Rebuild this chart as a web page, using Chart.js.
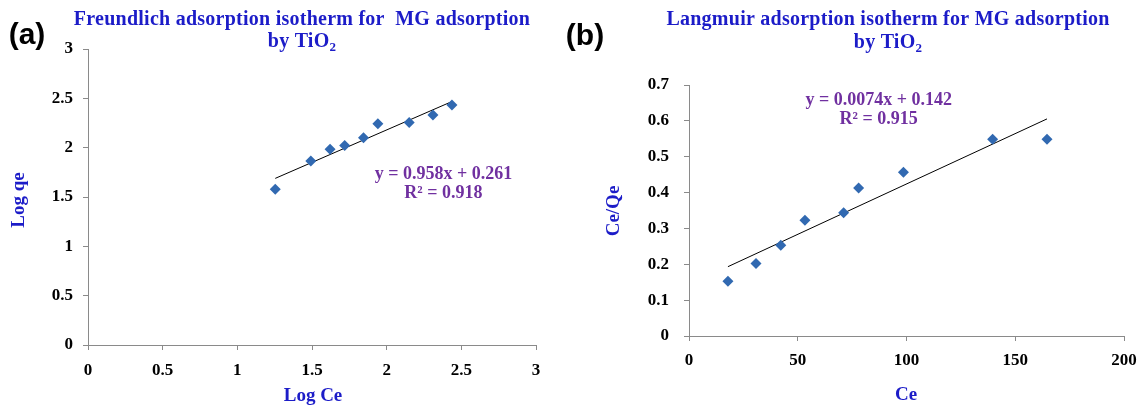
<!DOCTYPE html>
<html>
<head>
<meta charset="utf-8">
<script src="https://cdn.jsdelivr.net/npm/chart.js@4.4.1/dist/chart.umd.min.js"></script>
<style>
  html, body { margin: 0; padding: 0; background: #ffffff; }
  #wrap { position: relative; width: 1146px; height: 408px; overflow: hidden; }
  #wrap canvas { position: absolute; top: 0; }
</style>
</head>
<body>
<div id="wrap">
  <canvas id="freundlich" width="573" height="408" style="left:0px"></canvas>
  <canvas id="langmuir" width="593" height="408" style="left:553px"></canvas>
</div>
<script>
// Freundlich isotherm: log Ce against log qe
const logCe = [1.254, 1.492, 1.621, 1.719, 1.845, 1.941, 2.151, 2.310, 2.437];
const logQe = [1.578, 1.864, 1.983, 2.023, 2.100, 2.242, 2.256, 2.330, 2.432];
const freundlichXTicks = [0, 0.5, 1, 1.5, 2, 2.5, 3];
const freundlichXLabels = ['0', '0.5', '1', '1.5', '2', '2.5', '3'];
const freundlichYTicks = [0, 0.5, 1, 1.5, 2, 2.5, 3];
const freundlichYLabels = ['0', '0.5', '1', '1.5', '2', '2.5', '3'];

// Langmuir isotherm: Ce against Ce/Qe
const ce = [17.9, 30.8, 42.2, 53.3, 71.1, 78.0, 98.6, 139.6, 164.6];
const ceOverQe = [0.153, 0.202, 0.253, 0.323, 0.344, 0.413, 0.457, 0.549, 0.549];
const langmuirXTicks = [0, 50, 100, 150, 200];
const langmuirXLabels = ['0', '50', '100', '150', '200'];
const langmuirYTicks = [0, 0.1, 0.2, 0.3, 0.4, 0.5, 0.6, 0.7];
const langmuirYLabels = ['0', '0.1', '0.2', '0.3', '0.4', '0.5', '0.6', '0.7'];

const SERIF = '"Liberation Serif", "Times New Roman", serif';
const SANS = '"Liberation Sans", Arial, sans-serif';
const BLUE = '#1c1cc8';
const PURPLE = '#7030a0';
const MARKER = '#3169b1';
const AXIS = '#8a8a8a';

// least-squares linear trendline across the range of the points
function trendline(xs, ys) {
  const n = xs.length;
  const mx = xs.reduce((a, b) => a + b, 0) / n;
  const my = ys.reduce((a, b) => a + b, 0) / n;
  let sxy = 0, sxx = 0;
  for (let i = 0; i < n; i++) {
    sxy += (xs[i] - mx) * (ys[i] - my);
    sxx += (xs[i] - mx) * (xs[i] - mx);
  }
  const m = sxy / sxx, b = my - m * mx;
  const lo = Math.min(...xs), hi = Math.max(...xs);
  return [{ x: lo, y: m * lo + b }, { x: hi, y: m * hi + b }];
}

// text pieces: plain runs plus subscript runs, centred on (cx, cy)
function drawRuns(ctx, runs, size, cx, cy, spacing) {
  const fontFor = r => 'bold ' + (r.sub ? Math.round(size * 0.65) : size) + 'px ' + (r.family || SERIF);
  ctx.letterSpacing = (spacing || 0) + 'px';
  const widths = runs.map(r => { ctx.font = fontFor(r); return ctx.measureText(r.text).width; });
  const total = widths.reduce((a, b) => a + b, 0);
  let x = cx - total / 2;
  ctx.textAlign = 'left';
  ctx.textBaseline = 'middle';
  runs.forEach((r, i) => {
    ctx.font = fontFor(r);
    ctx.fillText(r.text, x, cy + (r.sub ? size * 0.28 : 0));
    x += widths[i];
  });
}

// titles, axis names and fit equations for one panel
function textPlugin(items) {
  return {
    id: 'panelText',
    afterDraw(chart) {
      const ctx = chart.ctx;
      for (const t of items) {
        ctx.save();
        ctx.fillStyle = t.color;
        let px = t.px, py = t.py;
        if (t.at) {
          px = chart.scales.x.getPixelForValue(t.at[0]);
          py = chart.scales.y.getPixelForValue(t.at[1]);
        }
        ctx.translate(px, py);
        if (t.rotate) ctx.rotate(t.rotate);
        drawRuns(ctx, t.runs, t.size, 0, 0, t.spacing);
        ctx.restore();
      }
    }
  };
}

function axis(min, max, values, labels, fitKey, fitSize, pad) {
  return {
    type: 'linear',
    min: min,
    max: max,
    afterBuildTicks: s => { s.ticks = values.map(v => ({ value: v })); },
    afterFit: s => { s[fitKey] = fitSize; },
    ticks: {
      callback: (v, i) => labels[i],
      color: '#000000',
      padding: pad,
      maxRotation: 0,
      autoSkip: false,
      font: { family: SERIF, size: 17, weight: 'bold' }
    },
    grid: { drawOnChartArea: false, drawTicks: true, tickLength: 5, color: AXIS, lineWidth: 1 },
    border: { display: true, color: AXIS, width: 1 }
  };
}

function panel(id, xs, ys, cfg) {
  return new Chart(document.getElementById(id), {
    type: 'scatter',
    data: {
      datasets: [
        {
          data: xs.map((x, i) => ({ x: x, y: ys[i] })),
          pointStyle: 'rectRot',
          pointRadius: 5.5,
          backgroundColor: MARKER,
          borderColor: MARKER,
          borderWidth: 0,
          order: 1
        },
        {
          type: 'line',
          data: trendline(xs, ys),
          borderColor: '#000000',
          borderWidth: 1,
          pointRadius: 0,
          fill: false,
          order: 2
        }
      ]
    },
    options: {
      responsive: false,
      animation: false,
      devicePixelRatio: 1,
      events: [],
      layout: { padding: cfg.padding },
      scales: { x: cfg.x, y: cfg.y },
      plugins: {
        legend: { display: false },
        tooltip: { enabled: false }
      }
    },
    plugins: [textPlugin(cfg.text)]
  });
}

panel('freundlich', logCe, logQe, {
  padding: { left: 0, right: 37, top: 49, bottom: 0 },
  x: axis(0, 3, freundlichXTicks, freundlichXLabels, 'height', 63, 10),
  y: axis(0, 3, freundlichYTicks, freundlichYLabels, 'width', 88, 10),
  text: [
    { px: 27, py: 36, size: 30, color: '#000000', runs: [{ text: '(a)', family: SANS }] },
    { px: 302, py: 20, size: 20, spacing: 0.25, color: BLUE, runs: [{ text: 'Freundlich adsorption isotherm for  MG adsorption' }] },
    { px: 302, py: 42, size: 20, spacing: 0.25, color: BLUE, runs: [{ text: 'by TiO' }, { text: '2', sub: true }] },
    { px: 19, py: 200, size: 19, color: BLUE, rotate: -Math.PI / 2, runs: [{ text: 'Log qe' }] },
    { px: 313, py: 396, size: 19, color: BLUE, runs: [{ text: 'Log Ce' }] },
    { at: [2.38, 1.733], size: 18, color: PURPLE, runs: [{ text: 'y = 0.958x + 0.261' }] },
    { at: [2.38, 1.54], size: 18, color: PURPLE, runs: [{ text: 'R² = 0.918' }] }
  ]
});

panel('langmuir', ce, ceOverQe, {
  padding: { left: 0, right: 22, top: 85, bottom: 0 },
  x: axis(0, 200, langmuirXTicks, langmuirXLabels, 'height', 72, 9),
  y: axis(0, 0.7, langmuirYTicks, langmuirYLabels, 'width', 136, 15),
  text: [
    { px: 32, py: 37, size: 30, color: '#000000', runs: [{ text: '(b)', family: SANS }] },
    { px: 335, py: 20, size: 20, spacing: 0.25, color: BLUE, runs: [{ text: 'Langmuir adsorption isotherm for MG adsorption' }] },
    { px: 335, py: 43, size: 20, spacing: 0.25, color: BLUE, runs: [{ text: 'by TiO' }, { text: '2', sub: true }] },
    { px: 61, py: 211, size: 19, color: BLUE, rotate: -Math.PI / 2, runs: [{ text: 'Ce/Qe' }] },
    { px: 353, py: 395, size: 19, color: BLUE, runs: [{ text: 'Ce' }] },
    { at: [87.2, 0.657], size: 18, color: PURPLE, runs: [{ text: 'y = 0.0074x + 0.142' }] },
    { at: [87.2, 0.604], size: 18, color: PURPLE, runs: [{ text: 'R² = 0.915' }] }
  ]
});
</script>
</body>
</html>
